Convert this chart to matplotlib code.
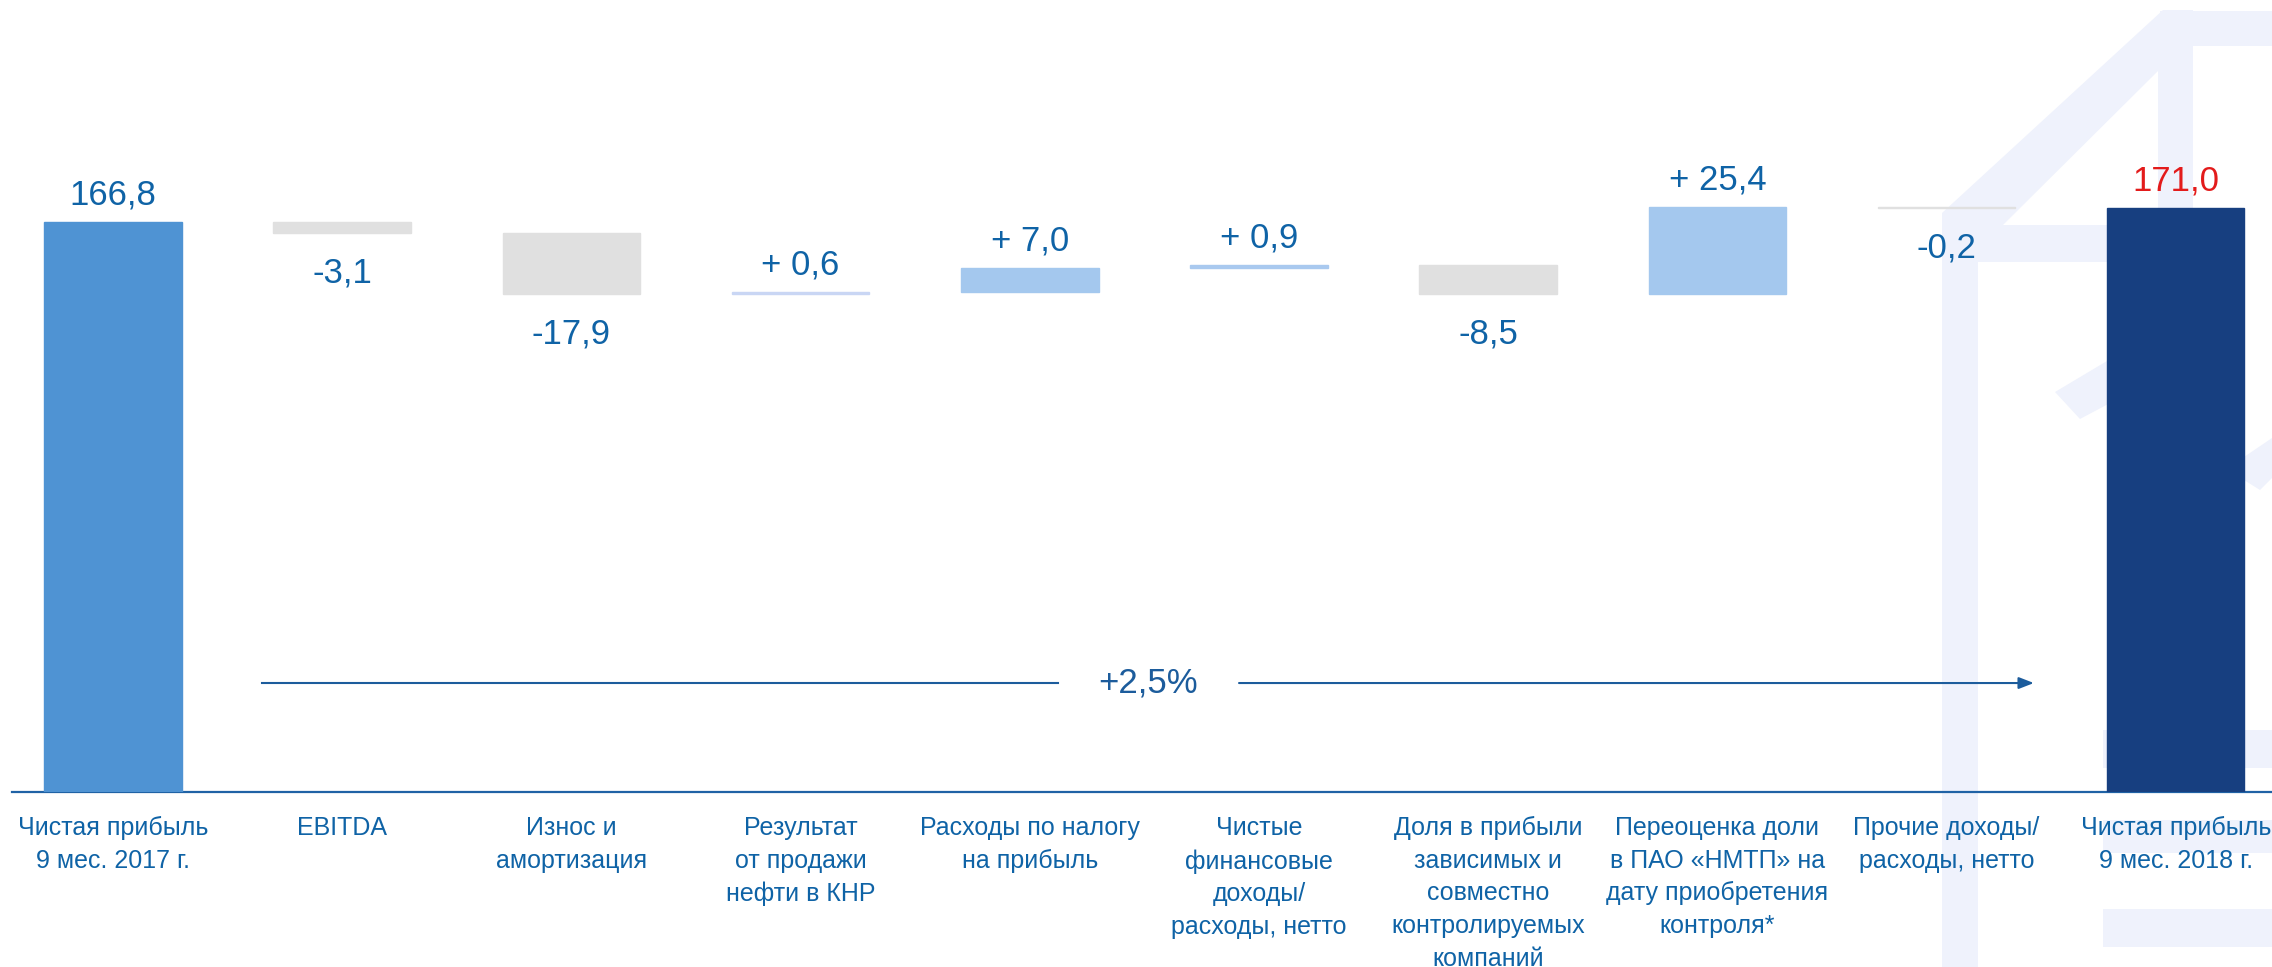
import matplotlib
matplotlib.use("Agg")
import matplotlib.pyplot as plt
from matplotlib.patches import Polygon
import numpy as np

plt.rcParams['font.family'] = ['Liberation Sans', 'DejaVu Sans']

# ---------------- data ----------------
categories = [
    "Чистая прибыль\n9 мес. 2017 г.",
    "EBITDA",
    "Износ и\nамортизация",
    "Результат\nот продажи\nнефти в КНР",
    "Расходы по налогу\nна прибыль",
    "Чистые\nфинансовые\nдоходы/\nрасходы, нетто",
    "Доля в прибыли\nзависимых и\nсовместно\nконтролируемых\nкомпаний",
    "Переоценка доли\nв ПАО «НМТП» на\nдату приобретения\nконтроля*",
    "Прочие доходы/\nрасходы, нетто",
    "Чистая прибыль\n9 мес. 2018 г.",
]
start_value = 166.8
deltas = [-3.1, -17.9, 0.6, 7.0, 0.9, -8.5, 25.4, -0.2]
end_value = 171.0
value_labels = ["166,8", "-3,1", "-17,9", "+ 0,6", "+ 7,0", "+ 0,9",
                "-8,5", "+ 25,4", "-0,2", "171,0"]
change_label = "+2,5%"

# ---------------- styles ----------------
W, H = 2272, 967
TEXT_BLUE = "#0f63a6"
AXIS_BLUE = "#1f62a5"
ARROW_BLUE = "#1c5c9c"
RED = "#e31b1b"
LOGO = "#eff2fc"
bar_colors = ["#4f93d3", "#e0e0e0", "#e0e0e0", "#c9d6f4", "#a4c8ee",
              "#a9c9ef", "#e0e0e0", "#a4c8ee", "#e0e0e0", "#173f80"]
label_colors = [TEXT_BLUE] * 9 + [RED]

fig = plt.figure(figsize=(W / 100, H / 100), dpi=100)
fig.patch.set_facecolor("white")

# ---------------- background logo (decorative) ----------------
def px(points):
    return [(x / W, 1 - y / H) for x, y in points]

logo_shapes = [
    [(2160, 11), (2272, 11), (2272, 46), (2160, 46)],                 # top bar
    [(1942, 213), (2163, 10), (2193, 10), (2193, 46), (2158, 71),
     (2003, 225), (1942, 225)],                                         # roof diagonal
    [(2158, 40), (2193, 40), (2193, 262), (2158, 262)],               # inner vertical
    [(1942, 213), (1978, 213), (1978, 967), (1942, 967)],             # left vertical
    [(1978, 225), (2193, 225), (2193, 262), (1978, 262)],             # crossbar
    [(2055, 392), (2112, 358), (2112, 402), (2080, 419)],             # small diagonal
    [(2244, 457), (2272, 438), (2272, 478), (2260, 490), (2244, 480)],  # right diagonal
    [(2103, 730), (2272, 730), (2272, 768), (2103, 768)],
    [(2103, 820), (2272, 820), (2272, 853), (2103, 853)],
    [(2103, 909), (2272, 909), (2272, 947), (2103, 947)],
]
for shp in logo_shapes:
    fig.add_artist(Polygon(px(shp), closed=True, transform=fig.transFigure,
                           facecolor=LOGO, edgecolor="none", zorder=-5))

# ---------------- axes ----------------
ax = fig.add_axes([12 / W, 175 / H, 1 - 12 / W, 792 / H])
ax.set_facecolor("none")
ax.set_zorder(1)

n = len(categories)
x = np.arange(n)
values = [start_value] + deltas + [end_value]
cum = np.cumsum([start_value] + deltas)
bottoms, heights = [], []
bottoms.append(0.0); heights.append(start_value)
for i, d in enumerate(deltas):
    prev = cum[i]
    bottoms.append(min(prev, prev + d)); heights.append(abs(d))
bottoms.append(0.0); heights.append(end_value)

ax.bar(x, heights, bottom=bottoms, width=0.60, color=bar_colors,
       edgecolor=bar_colors, linewidth=1.0, zorder=3)

# value labels
for i in range(n):
    v = values[i]
    top = bottoms[i] + heights[i]
    if v >= 0 or i in (0, n - 1):
        ax.annotate(value_labels[i], xy=(x[i], top), xytext=(0, 12.6),
                    textcoords="offset points", ha="center", va="baseline",
                    fontsize=25, color=label_colors[i], zorder=5)
    else:
        ax.annotate(value_labels[i], xy=(x[i], bottoms[i]), xytext=(0, -35.6),
                    textcoords="offset points", ha="center", va="baseline",
                    fontsize=25, color=label_colors[i], zorder=5)

# category labels
for i in range(n):
    ax.annotate(categories[i], xy=(x[i], 0), xycoords=("data", "axes fraction"),
                xytext=(0, -17.5), textcoords="offset points", ha="center",
                va="top", fontsize=18, color=TEXT_BLUE, linespacing=1.45,
                annotation_clip=False)

# growth arrow
arrow_y = 31.9
ax.plot([0.650, 4.123], [arrow_y, arrow_y], color=ARROW_BLUE, lw=1.5, zorder=4)
ax.annotate("", xy=(8.381, arrow_y), xytext=(4.913, arrow_y),
            arrowprops=dict(arrowstyle="-|>,head_length=0.9,head_width=0.35",
                            color=ARROW_BLUE, lw=1.5, shrinkA=0, shrinkB=0),
            zorder=4)
ax.text(4.516, arrow_y, change_label, ha="center", va="center", fontsize=25,
        color=ARROW_BLUE, zorder=5)

ax.set_xlim(-0.4407, 9.420)
ax.set_ylim(0, 792 / 3.416)
for s in ["top", "right", "left"]:
    ax.spines[s].set_visible(False)
ax.spines["bottom"].set_color(AXIS_BLUE)
ax.spines["bottom"].set_linewidth(1.6)
ax.set_xticks([])
ax.set_yticks([])

fig.savefig("out.png", dpi=100)
